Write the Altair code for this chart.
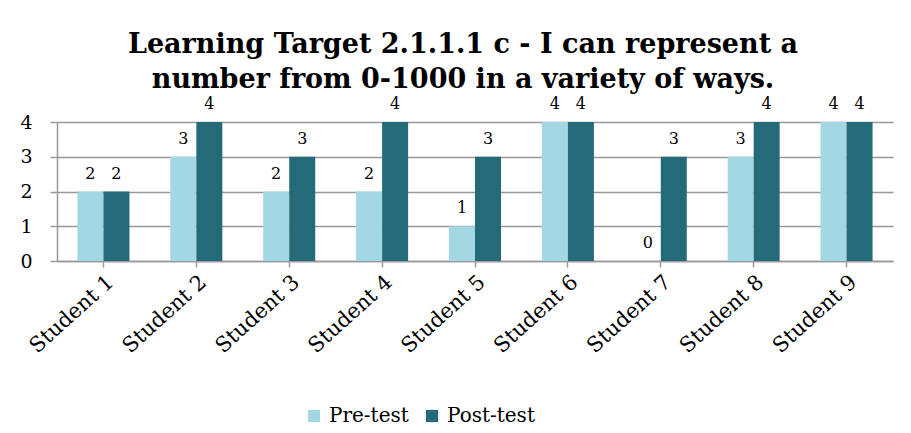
import altair as alt
import pandas as pd

students = ["Student 1", "Student 2", "Student 3", "Student 4", "Student 5",
            "Student 6", "Student 7", "Student 8", "Student 9"]
pre_test = [2, 3, 2, 2, 1, 4, 0, 3, 4]
post_test = [2, 4, 3, 4, 3, 4, 3, 4, 4]
series = ["Pre-test", "Post-test"]
colors = ["#A3D7E3", "#256A78"]
y_ticks = [0, 1, 2, 3, 4]

rows = []
for s, a, b in zip(students, pre_test, post_test):
    rows.append({"student": s, "test": "Pre-test", "score": a})
    rows.append({"student": s, "test": "Post-test", "score": b})
df = pd.DataFrame(rows)

FONT = "DejaVu Serif"

x = alt.X("student:N", sort=students, title=None,
          scale=alt.Scale(paddingInner=0.44, paddingOuter=0.22),
          axis=alt.Axis(labelAngle=-42, labelFontSize=21, labelFont=FONT,
                        labelColor="#000", domainColor="#999", domainWidth=1.5,
                        tickColor="#999", tickWidth=1.5, tickSize=6,
                        labelPadding=4, grid=False))
xo = alt.XOffset("test:N", sort=series)
y = alt.Y("score:Q", title=None,
          scale=alt.Scale(domain=[0, 4], nice=False),
          axis=alt.Axis(values=y_ticks, tickCount=10, format="d",
                        labelFontSize=19, labelOverlap=False,
                        labelFont=FONT, labelColor="#000", grid=True,
                        gridColor="#999", gridWidth=1.5, domainColor="#999",
                        domainWidth=1.5, tickColor="#999", tickWidth=1.5,
                        tickSize=7, labelPadding=18))
color = alt.Color("test:N", sort=series,
                  scale=alt.Scale(domain=series, range=colors),
                  legend=alt.Legend(title=None, orient="none", legendX=247,
                                    legendY=284, direction="horizontal",
                                    symbolType="square", symbolSize=150,
                                    symbolStrokeWidth=0, labelFont=FONT,
                                    labelFontSize=20, labelColor="#000",
                                    columnPadding=13, labelOffset=5))

bars = alt.Chart(df).mark_bar().encode(x=x, xOffset=xo, y=y, color=color)
labels = alt.Chart(df).mark_text(baseline="alphabetic", dy=-13, fontSize=16,
                                 font=FONT, color="#000").encode(
    x=x, xOffset=xo, y=y, text=alt.Text("score:Q", format="d"))

chart = alt.layer(bars, labels).properties(
    width=836, height=139,
    autosize=alt.AutoSizeParams(type="none"),
    padding={"left": 49, "top": 114, "right": 10, "bottom": 170},
    title=alt.TitleParams(
        ["Learning Target 2.1.1.1 c - I can represent a",
         "number from 0-1000 in a variety of ways."],
        font=FONT, fontSize=27, fontWeight="bold", color="#000",
        anchor="middle", lineHeight=35, offset=2, dx=-12),
).configure_view(stroke=None)

chart.save("out.html", embed_options={"renderer": "svg", "actions": False})
